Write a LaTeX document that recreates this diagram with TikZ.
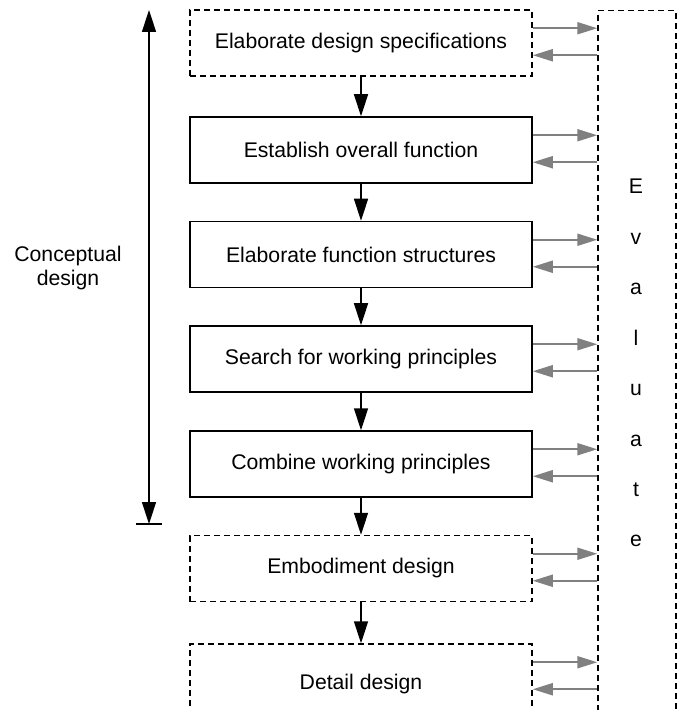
\documentclass[tikz,border=0pt]{standalone}
\usepackage{fontspec}
\setmainfont{Liberation Sans}
\usepackage{tikz}
\usetikzlibrary{arrows.meta}
\tikzset{%
  every stage/.style={
    draw,
    line width=0.75pt,
    minimum width=171pt,
    minimum height=33pt
  },
  stage dashed/.style={
    every stage,
    dash pattern=on 3pt off 2pt
  },
  stage cut/.style={
    stage dashed,
    minimum height=40pt
  },
  side arrow/.style={
    draw=gray,
    line width=1pt,
    -{Triangle[length=10pt,width=6pt]},
    gray
  },
}

\begin{document}
\begin{tikzpicture}[> = {Triangle[length=11pt,width=7pt]}, x=0.5pt, y=-0.5pt,
    font=\fontsize{10.6}{12}\selectfont]
\clip (0,0) rectangle (683,710);
% evaluation column
\node[stage dashed, minimum width=39pt, minimum height=365pt, anchor=north] (eval) at (637,10) {};
\foreach \c [count=\i] in {E,v,a,l,u,a,t,e}
    \node[anchor=base, inner sep=0pt] (eval_\i) at (636,194+50.4*\i-50.4) {\c};
% design steps
\foreach \i/\y/\txt/\sty in {1/43/Elaborate design specifications/stage dashed,
                             2/150/Establish overall function/every stage,
                             3/254.5/Elaborate function structures/every stage,
                             4/359/Search for working principles/every stage,
                             5/464/Combine working principles/every stage,
                             6/568.5/Embodiment design/stage dashed,
                             7/684/Detail design/stage cut}
    {\node[\sty] (box_\i) at (361,\y) {\txt};
     \draw[side arrow] ([yshift=-9.5pt]box_\i.north east) -- ([yshift=-9.5pt]box_\i.north east -| eval.west);
     \draw[side arrow] ([yshift=-23pt]box_\i.north east -| eval.west) -- ([yshift=-23pt]box_\i.north east);}
\foreach \i/\j in {1/2,2/3,3/4,4/5,5/6,6/7}
    \draw[line width=0.75pt, ->] (box_\i.south) -- (box_\j.north);
% conceptual design range
\coordinate (cd_top) at (149,10);
\coordinate (cd_bot) at (149,524);
\draw[line width=0.75pt, <->] (cd_top) -- (cd_bot);
\draw[line width=0.75pt] ([xshift=-6.5pt]cd_bot) -- ([xshift=6.5pt]cd_bot);
\node[align=center] (cd_label) at (68,268) {Conceptual\\design};
\end{tikzpicture}
\end{document}
